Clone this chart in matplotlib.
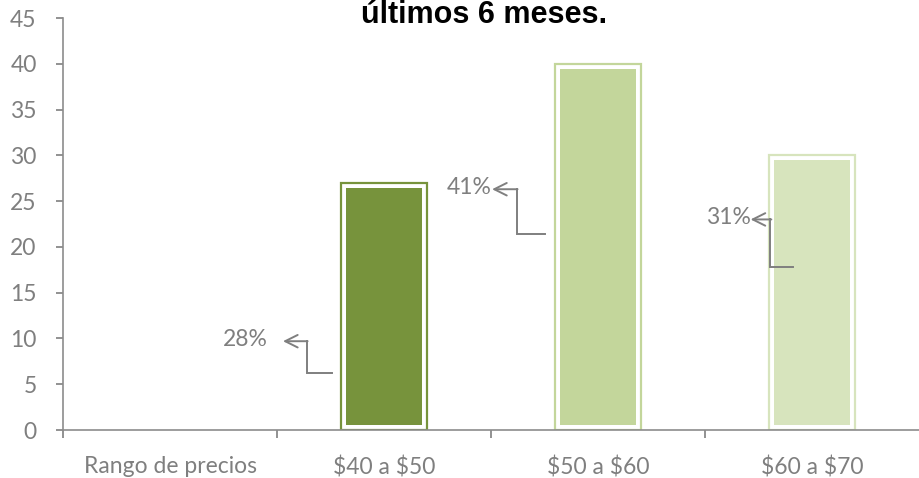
import matplotlib
matplotlib.use("Agg")
import matplotlib.pyplot as plt

# datos
categorias = ["Rango de precios", "$40 a $50", "$50 a $60", "$60 a $70"]
valores = [0, 27, 40, 30]
etiquetas = ["28%", "41%", "31%"]
colores = ["#77933C", "#C3D69B", "#D7E4BD"]
yticks = list(range(0, 50, 5))

GRIS = "#7F7F7F"
ANCHO = 0.4
HUECO = 0.023

plt.rcParams["font.family"] = ["Lato", "DejaVu Sans"]
plt.rcParams["text.parse_math"] = False

fig = plt.figure(figsize=(9.19, 4.78), dpi=100)
ax = fig.add_axes([63 / 919, 0.1004, 1 - 63 / 919, 0.8619])

x = list(range(len(categorias)))
for i, (xi, v) in enumerate(zip(x[1:], valores[1:])):
    c = colores[i]
    # contorno exterior y relleno interior separados por un hueco blanco
    ax.bar(xi, v, width=ANCHO, facecolor="white", edgecolor=c, linewidth=1.6, zorder=2)
    ax.bar(xi, v - 2 * 0.55, bottom=0.55, width=ANCHO - 2 * HUECO,
           facecolor=c, edgecolor="none", zorder=3)

# etiquetas con linea guia: (inicio x, inicio y, codo x, codo y, punta x)
guias = [
    (0.759, 6.2, 0.639, 9.7, 0.528),
    (1.750, 21.4, 1.620, 26.3, 1.505),
    (2.912, 17.8, 2.806, 23.0, 2.713),
]
ajuste_texto = [-0.07, 0.0, 0.0]
for (x0, y0, xc, yc, xt), txt, dx in zip(guias, etiquetas, ajuste_texto):
    ax.plot([x0, xc, xc], [y0, y0, yc], color=GRIS, linewidth=1.4, zorder=4,
            solid_joinstyle="miter")
    ax.annotate("", xy=(xt, yc), xytext=(xc + 0.004, yc),
                arrowprops=dict(arrowstyle="->,head_length=0.9,head_width=0.45",
                                color=GRIS, lw=1.4, shrinkA=0, shrinkB=0))
    ax.text(xt + dx, yc + 0.2, txt, ha="right", va="center", color=GRIS,
            fontsize=16.5)

ax.set_xlim(-0.5, len(categorias) - 0.5)
ax.set_ylim(0, 45)
ax.set_yticks(yticks)
ax.tick_params(axis="y", colors=GRIS, labelsize=16.5, length=5, width=1.2, pad=14)

ax.set_xticks(x)
ax.set_xticklabels(categorias)
ax.set_xticks([i - 0.5 for i in range(len(categorias))], minor=True)
ax.tick_params(axis="x", which="major", length=0, labelsize=16.5, labelcolor=GRIS, pad=19)
ax.tick_params(axis="x", which="minor", length=6, width=1.2, color=GRIS)

for s in ["top", "right"]:
    ax.spines[s].set_visible(False)
for s in ["left", "bottom"]:
    ax.spines[s].set_color("#8C8C8C")
    ax.spines[s].set_linewidth(1.2)

fig.text(0.527, 1.0, "últimos 6 meses.", ha="center", va="top",
         fontsize=22, fontweight="bold", family="Liberation Sans")

fig.savefig("out.png", dpi=100)
